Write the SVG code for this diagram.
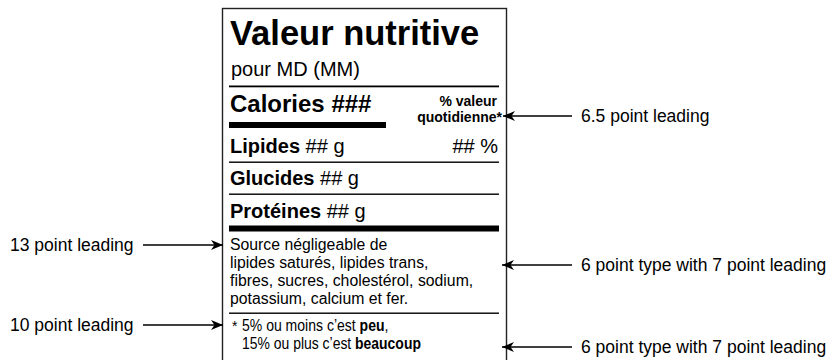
<svg xmlns="http://www.w3.org/2000/svg" width="830" height="360" viewBox="0 0 830 360">
<defs>
<marker id="ah" viewBox="0 0 12 10" refX="12" refY="5" markerWidth="13" markerHeight="10" markerUnits="userSpaceOnUse" orient="auto">
<path d="M0,0 L12,5 L0,10 L3.5,5 z" fill="#000"/>
</marker>
<style>
text{font-family:"Liberation Sans",Arial,Helvetica,sans-serif;fill:#000}
.b{font-weight:bold}
.lbl{font-size:17.5px}
.sm{font-size:15.8px}
.fn{font-size:16.5px}
.conn{stroke:#000;stroke-width:1.3;fill:none;marker-end:url(#ah)}
</style>
</defs>
<rect width="830" height="360" fill="#fff"/>
<g id="label">
<rect x="222.5" y="8.5" width="284" height="370" fill="none" stroke="#222" stroke-width="1.4"/>
<text x="230" y="45" class="b" font-size="34.5">Valeur nutritive</text>
<text x="231" y="76" font-size="20">pour MD (MM)</text>
<rect x="229" y="85.5" width="270" height="1.8"/>
<text x="230" y="112" class="b" font-size="24">Calories ###</text>
<rect x="229" y="122" width="157" height="6"/>
<text x="497" y="106" class="b" font-size="14" text-anchor="end">% valeur</text>
<text x="502" y="122" class="b" font-size="14" text-anchor="end">quotidienne*</text>
<text x="230" y="153" font-size="20"><tspan class="b">Lipides</tspan> ## g</text>
<text x="498" y="153" font-size="20" text-anchor="end">## %</text>
<rect x="229" y="161.5" width="270" height="1.4"/>
<text x="230" y="185" font-size="20"><tspan class="b">Glucides</tspan> ## g</text>
<rect x="229" y="193.5" width="270" height="1.4"/>
<text x="230" y="218" font-size="20"><tspan class="b">Protéines</tspan> ## g</text>
<rect x="229" y="225.5" width="270" height="6"/>
<text x="230" y="250" class="sm">Source négligeable de</text>
<text x="230" y="268" class="sm">lipides saturés, lipides trans,</text>
<text x="230" y="286" class="sm">fibres, sucres, cholestérol, sodium,</text>
<text x="230" y="304" class="sm">potassium, calcium et fer.</text>
<rect x="229" y="312.5" width="270" height="1.4"/>
<text x="232" y="331" font-size="14">*</text>
<text class="fn" transform="translate(242,331) scale(0.85,1)" x="0" y="0">5% ou moins c’est <tspan class="b">peu</tspan>,</text>
<text class="fn" transform="translate(242,349) scale(0.845,1)" x="0" y="0">15% ou plus c’est <tspan class="b">beaucoup</tspan></text>
</g>
<g id="note-65">
<text x="581" y="122" class="lbl">6.5 point leading</text>
</g>
<g id="note-13">
<text x="10" y="251" class="lbl">13 point leading</text>
</g>
<g id="note-6a">
<text x="581" y="271" class="lbl">6 point type with 7 point leading</text>
</g>
<g id="note-10">
<text x="10" y="331" class="lbl">10 point leading</text>
</g>
<g id="note-6b">
<text x="581" y="353" class="lbl">6 point type with 7 point leading</text>
</g>
<g id="connectors">
<line class="conn" x1="572" y1="116" x2="503" y2="116"/>
<line class="conn" x1="143" y1="245" x2="223" y2="245"/>
<line class="conn" x1="572" y1="265" x2="502" y2="265"/>
<line class="conn" x1="143" y1="325" x2="223" y2="325"/>
<line class="conn" x1="572" y1="347" x2="502" y2="347"/>
</g>
</svg>
